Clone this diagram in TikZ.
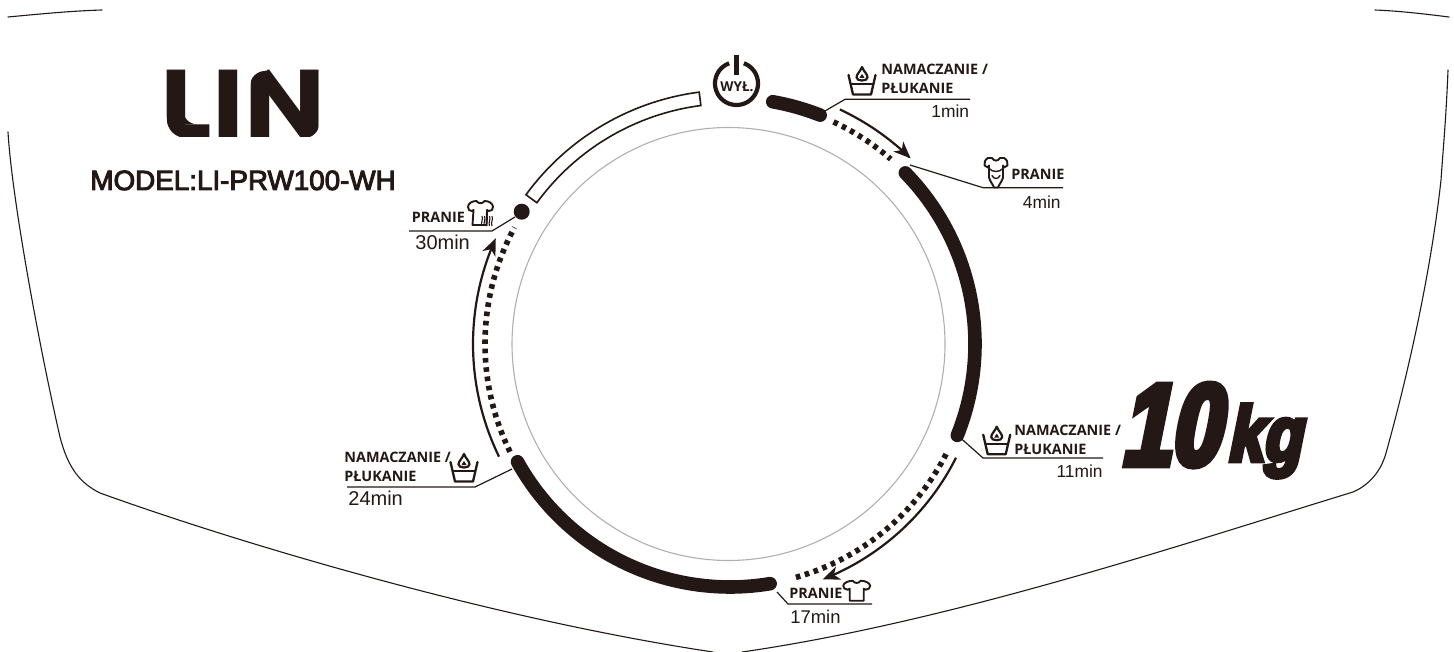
\documentclass[tikz,border=0pt]{standalone}
\usepackage{fontspec}
\setmainfont{Liberation Sans}
\newfontfamily\lblfont{Open Sans}
\newfontfamily\logofont{Poppins}[FakeStretch=1.125]
\newfontfamily\modelfont{Liberation Sans}[FakeBold=3.5]
\newfontfamily\tenfont{Liberation Sans}[BoldFeatures={FakeBold=6,FakeSlant=0.2,FakeStretch=0.76}]
\newfontfamily\kgfont{Liberation Sans}[BoldFeatures={FakeBold=6,FakeSlant=0.2,FakeStretch=0.82}]
\usetikzlibrary{arrows.meta}
\definecolor{ink}{HTML}{231815}
\newcommand\ringarc[3]{plot[domain=#1:#2,samples=50] ({730+#3*cos(\x)},{344-#3*sin(\x)})}
\tikzset{
  x=0.5pt,y=-0.5pt,
  outlinecurve/.style={draw=ink,line width=0.55pt,line cap=round},
  heavyarc/.style={draw=ink,line width=6.8pt,line cap=round},
  dotsarc/.style={draw=ink,line width=2.8pt,dash pattern=on 2.3pt off 2.35pt},
  arrowarc/.style={draw=ink,line width=1.1pt,-{Stealth[length=8.5pt,width=7pt,inset=2.5pt]}},
  leader/.style={draw=ink,line width=0.6pt},
  lbl/.style={inner sep=0pt,anchor=base west,text=ink,font=\lblfont\bfseries\fontsize{7.2}{8}\selectfont},
  mins/.style={inner sep=0pt,text=ink,font=\fontsize{8.7}{10}\selectfont},
  minsbig/.style={inner sep=0pt,text=ink,font=\fontsize{10}{11}\selectfont},
  minsmid/.style={inner sep=0pt,text=ink,font=\fontsize{9.2}{11}\selectfont},
  iconline/.style={draw=ink,line width=0.95pt,line join=round,line cap=round},
  basinicon/.pic={
    \draw[iconline,line width=1.15pt] (-13.5,-7) -- (-9,12.5) -- (9,12.5) -- (13.5,-7);
    \draw[iconline] (-11,2) -- (11,2);
    \draw[iconline,fill=white,line width=1.1pt] (0,-15) .. controls (-2,-10) and (-5.5,-8) .. (-5.5,-4.5) .. controls (-5.5,-0.5) and (5.5,-0.5) .. (5.5,-4.5) .. controls (5.5,-8) and (2,-10) .. (0,-15) -- cycle;
    \fill[ink] (0,-8) .. controls (-1,-6) and (-2.5,-5) .. (-2.5,-4) -- (2.5,-4) .. controls (2.5,-5) and (1,-6) .. (0,-8) -- cycle;
  },
  shirticon/.pic={
    \draw[iconline] (-4,-10) .. controls (-2,-7) and (2,-7) .. (4,-10) .. controls (8,-10) and (13,-8) .. (13.5,-5) .. controls (13.5,-3) and (12,-1) .. (9,-1) -- (7,-2) -- (7,10) -- (-7,10) -- (-7,-2) -- (-9,-1) .. controls (-12,-1) and (-13.5,-3) .. (-13.5,-5) .. controls (-13,-8) and (-8,-10) .. (-4,-10) -- cycle;
  },
  tallshirticon/.pic={
    \draw[iconline] (-4,-12) .. controls (-2,-9) and (2,-9) .. (4,-12) .. controls (8,-12) and (12.5,-10) .. (12.5,-6) .. controls (12.5,-3) and (11,-2) .. (8,-2) -- (6.5,-3) -- (6,12) -- (-8,12) -- (-7,-3) -- (-8.5,-2) .. controls (-11,-2) and (-12.5,-3) .. (-12.5,-6) .. controls (-12.5,-10) and (-8,-12) .. (-4,-12) -- cycle;
  },
  onesieicon/.pic={
    \draw[iconline] (-4,-14.5) .. controls (-2,-11) and (2,-11) .. (4,-14.5) -- (8,-14.5) .. controls (11,-13) and (12,-10) .. (11.5,-7) -- (8,-5) -- (7,-7) -- (7,5) .. controls (6,9) and (3,12) .. (2,15) -- (-2,15) .. controls (-3,12) and (-6,9) .. (-7,5) -- (-7,-7) -- (-8,-5) -- (-11.5,-7) .. controls (-12,-10) and (-11,-13) .. (-8,-14.5) -- cycle;
    \draw[iconline,line width=0.7pt] (-7,-4) .. controls (-3,0) and (3,0) .. (7,-4);
    \draw[iconline,line width=0.7pt] (-4,3) .. controls (-2,7) and (2,7) .. (4,3);
  },
  wavelet/.pic={
    \foreach \dx in {-5,-2.5,0,2.5,5} \draw[draw=ink,line width=0.55pt] (\dx,-5) .. controls (\dx+1.5,-2) and (\dx-1.5,2) .. (\dx,5);
  }
}
\begin{document}
\begin{tikzpicture}
\useasboundingbox (0,0) rectangle (1454,652);
% housing outline
\draw[outlinecurve] (8,17) .. controls (40,14) and (70,11) .. (102,10);
\draw[outlinecurve] (1375,10) .. controls (1400,11) and (1425,14) .. (1449,17);
\draw[outlinecurve] (8,132) .. controls (12,200) and (40,350) .. (60,437) .. controls (68,468) and (80,483) .. (100,493) .. controls (250,547) and (500,620) .. (713,652);
\draw[outlinecurve] (1448,70) .. controls (1446,120) and (1443,150) .. (1441,180) .. controls (1430,280) and (1405,385) .. (1386,453) .. controls (1380,475) and (1365,487) .. (1353,492) .. controls (1180,545) and (950,622) .. (742,652);
% dial
\draw[draw=ink!35!white,line width=0.55pt] (728.5,344) circle (216.5);
\draw[heavyarc] \ringarc{80}{68.5}{246};
\draw[heavyarc] \ringarc{44.3}{-21.9}{245};
\draw[heavyarc] \ringarc{-80.5}{-151}{243};
\draw[dotsarc] \ringarc{65}{49}{245};
\draw[dotsarc] \ringarc{-27}{-75}{242.5};
\draw[dotsarc] \ringarc{-153.9}{-208.4}{245};
\draw[arrowarc] \ringarc{64.9}{45.8}{259};
\draw[arrowarc] \ringarc{-26.7}{-68.5}{253};
\draw[arrowarc] \ringarc{206}{155.7}{257};
\draw[draw=ink,line width=0.8pt,fill=white] plot[domain=97.4:143.9,samples=50] ({732+255*cos(\x)},{345-255*sin(\x)}) -- plot[domain=143.9:97.4,samples=50] ({732+241.5*cos(\x)},{345-241.5*sin(\x)}) -- cycle;
\fill[ink] (521.7,211.7) circle (8);
% power symbol
\coordinate (pw) at (736.5,83.5);
\draw[draw=ink,line width=2.1pt] plot[domain=70:-250,samples=60] ({736.5+21.5*cos(\x)},{83.5-21.5*sin(\x)});
\coordinate (bartop) at (736.5,55);
\coordinate (barend) at (736.5,75);
\draw[draw=ink,line width=2.1pt] (bartop) -- (barend);
\node[inner sep=0pt,text=ink,font=\lblfont\bfseries\fontsize{6.8}{8}\selectfont] (wyl) at (737,87) {WYŁ.};
% leaders
\coordinate (la) at (825,111); \coordinate (lae) at (845,99.3); \coordinate (laf) at (970,99.3);
\coordinate (lb) at (910,165); \coordinate (lbe) at (983,187.7); \coordinate (lbf) at (1063,187.7);
\coordinate (lc) at (961.7,439); \coordinate (lce) at (983,458); \coordinate (lcf) at (1103,458);
\coordinate (ld) at (777,592); \coordinate (lde) at (788,604); \coordinate (ldf) at (872,604);
\coordinate (le) at (512,469); \coordinate (lee) at (475,487); \coordinate (lef) at (347,487);
\coordinate (lf) at (515,217); \coordinate (lfe) at (492,231); \coordinate (lff) at (409,231);
\draw[leader] (la) -- (lae) -- (laf);
\draw[leader] (lb) -- (lbe) -- (lbf);
\draw[leader] (lc) -- (lce) -- (lcf);
\draw[leader] (ld) -- (lde) -- (ldf);
\draw[leader] (le) -- (lee) -- (lef);
\draw[leader] (lf) -- (lfe) -- (lff);
% labels
\node[lbl] (a1) at (881,74.5) {NAMACZANIE /};
\node[lbl] (a2) at (881,94) {PŁUKANIE};
\node[mins,anchor=base east] (a3) at (969.5,118) {1min};
\node[lbl] (b1) at (1011,179.5) {PRANIE};
\node[mins,anchor=base east] (b2) at (1061,209) {4min};
\node[lbl] (c1) at (1014,435) {NAMACZANIE /};
\node[lbl] (c2) at (1014,454) {PŁUKANIE};
\node[mins,anchor=base east] (c3) at (1103,477.5) {11min};
\node[lbl] (d1) at (789,598) {PRANIE};
\node[minsmid,anchor=base west] (d2) at (790,623) {17min};
\node[lbl] (e1) at (344,462) {NAMACZANIE /};
\node[lbl] (e2) at (344,481) {PŁUKANIE};
\node[minsbig,anchor=base west] (e3) at (348,505.5) {24min};
\node[lbl] (f1) at (411.5,222.5) {PRANIE};
\node[minsbig,anchor=base west] (f2) at (415,249.5) {30min};
% icons
\pic at (862,82) {basinicon};
\pic at (996.7,441.7) {basinicon};
\pic at (464,469) {basinicon};
\pic at (996,172.5) {onesieicon};
\pic at (856.7,590.7) {shirticon};
\pic at (480.5,213) {tallshirticon};
\pic at (487,221) {wavelet};
% brand
\node[inner sep=0pt,anchor=base west,text=ink] (logo) at (160.5,138) {\logofont\bfseries\fontsize{48}{48}\selectfont LIN};
% rounded corners of the logotype
\fill[white] (164,117.5) -- (164,140) -- (187,140) -- (187,138.2) .. controls (175,138.2) and (166.5,130) .. (166.5,117.5) -- cycle;
\fill[ink] (183,109) -- (183,124.5) -- (197,124.5) .. controls (189,124) and (183,118) .. (183,109) -- cycle;
\fill[white] (247,87) -- (247,68) -- (267,68) -- (267,70.5) .. controls (256,71) and (250,77) .. (250,87) -- cycle;
\fill[white] (322,122) -- (322,141) -- (303,141) -- (303,138.5) .. controls (313,138) and (319.5,132) .. (319.5,122) -- cycle;
\node[inner sep=0pt,anchor=base west,text=ink] (model) at (90,190) {\modelfont\fontsize{13.9}{16}\selectfont MODEL:LI-PRW100-WH};
\node[inner sep=0pt,anchor=base west,text=ink] (ten) at (1120,465) {\tenfont\bfseries\fontsize{58}{60}\selectfont 10};
\node[inner sep=0pt,anchor=base west,text=ink] (kg) at (1226,461) {\kgfont\bfseries\fontsize{39}{40}\selectfont kg};
\end{tikzpicture}
\end{document}
